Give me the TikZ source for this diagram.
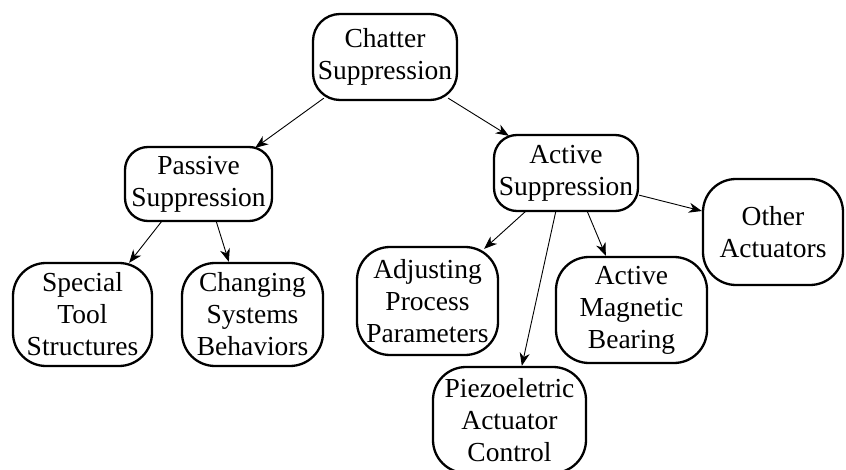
\documentclass[tikz,border=0pt]{standalone}
\usepackage{fontspec}
\setmainfont{Liberation Serif}
\usetikzlibrary{arrows.meta,calc}
\tikzset{
  box/.style={draw, line width=2.3pt, rounded corners=#1, inner sep=0pt,
    align=center, font=\fontsize{27.5}{32}\selectfont},
  box/.default=30pt,
  conn/.style={line width=0.9pt, -{Stealth[length=13pt,width=10pt,inset=4pt]}}
}
\begin{document}
\begin{tikzpicture}[x=1pt,y=-1pt]
\useasboundingbox (0,0) rectangle (846,470);
\node[box=27pt, minimum width=144pt, minimum height=86pt] (chatter) at (385,57) {Chatter\\Suppression};
\node[box=23pt, minimum width=147pt, minimum height=74pt] (passive) at (198.5,184) {Passive\\Suppression};
\node[box=23pt, minimum width=144pt, minimum height=76pt] (active) at (566,173) {Active\\Suppression};
\node[box=33pt, minimum width=139pt, minimum height=103pt] (special) at (82.5,314.5) {Special\\Tool\\Structures};
\node[box=33pt, minimum width=141pt, minimum height=103pt] (changing) at (252.5,314.5) {Changing\\Systems\\Behaviors};
\node[box=33pt, minimum width=141pt, minimum height=108pt] (adjusting) at (427.5,301) {Adjusting\\Process\\Parameters};
\node[box=33pt, minimum width=151pt, minimum height=106pt] (magnetic) at (631.5,310) {Active\\Magnetic\\Bearing};
\node[box=33pt, minimum width=153pt, minimum height=106pt] (piezo) at (509.5,420) {Piezoeletric\\Actuator\\Control};
\node[box=33pt, minimum width=140pt, minimum height=106pt] (other) at (773,232) {Other\\Actuators};
\draw[conn] ($(chatter.south west)+(12,-3)$) -- ($(passive.north east)+(-18,2)$);
\draw[conn] ($(chatter.south east)+(-10,-3)$) -- ($(active.north west)+(16,2)$);
\draw[conn] ($(passive.south west)+(38,-1)$) -- ($(special.north east)+(-24,1)$);
\draw[conn] ($(passive.south east)+(-57,-1)$) -- ($(changing.north west)+(48,0)$);
\draw[conn] ($(active.south west)+(33,-1)$) -- ($(adjusting.north east)+(-15,3)$);
\draw[conn] ($(active.south west)+(63,-1)$) -- ($(piezo.north west)+(90,0)$);
\draw[conn] ($(active.south east)+(-52,-1)$) -- ($(magnetic.north west)+(51,0)$);
\draw[conn] ($(active.south east)+(0,-17)$) -- ($(other.west)+(0,-21)$);
\end{tikzpicture}
\end{document}
